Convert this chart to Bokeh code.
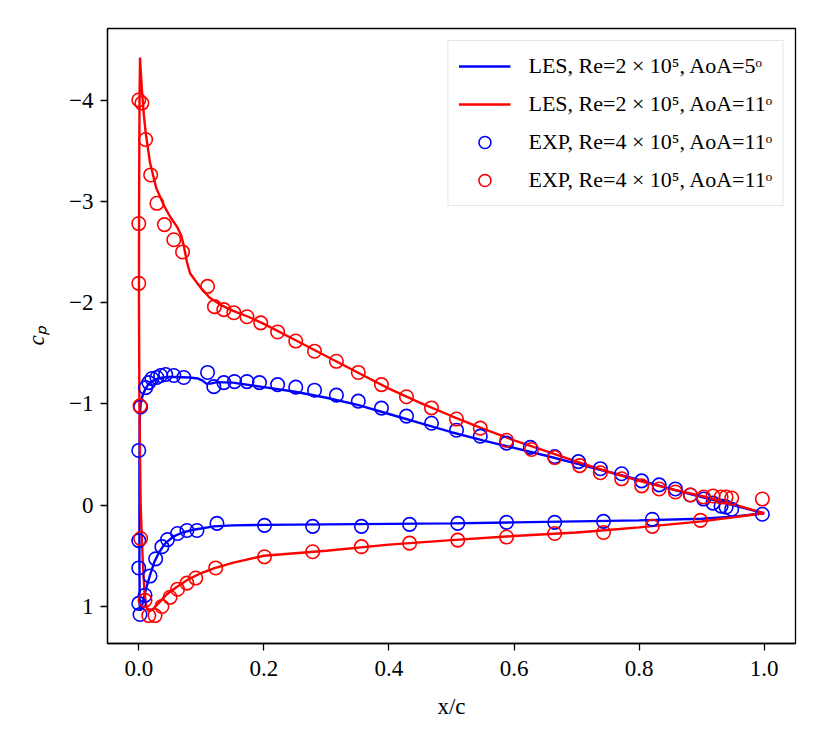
from bokeh.plotting import figure
from bokeh.models import Range1d, FixedTicker, Legend, LegendItem
from bokeh.embed import file_html
from bokeh.resources import INLINE

# ---------------- data ----------------
# LES, Re=2e5, AoA=5 (closed contour: lower TE -> LE -> upper TE)
les5_x = [1.0, 0.95, 0.9, 0.8, 0.7, 0.6, 0.5, 0.4, 0.3, 0.2, 0.15, 0.12, 0.09, 0.07,
          0.055, 0.042, 0.033, 0.025, 0.018, 0.012, 0.008, 0.005, 0.0025, 0.0015,
          0.001, 0.001, 0.0015, 0.003, 0.006, 0.01, 0.015, 0.02, 0.03, 0.045, 0.06,
          0.08, 0.095, 0.102, 0.108, 0.115, 0.125, 0.15, 0.2, 0.25, 0.3, 0.35, 0.4,
          0.45, 0.5, 0.55, 0.6, 0.65, 0.7, 0.75, 0.8, 0.85, 0.9, 0.95, 1.0]
les5_cp = [0.08, 0.115, 0.135, 0.15, 0.16, 0.17, 0.18, 0.185, 0.19, 0.195, 0.2, 0.21,
           0.24, 0.27, 0.31, 0.38, 0.46, 0.56, 0.69, 0.82, 0.92, 1.0, 1.04, 1.0,
           0.5, -0.4, -0.85, -1.0, -1.08, -1.14, -1.19, -1.22, -1.25, -1.265, -1.265,
           -1.26, -1.25, -1.23, -1.2, -1.2, -1.215, -1.21, -1.165, -1.12, -1.06, -0.99,
           -0.9, -0.81, -0.72, -0.64, -0.565, -0.49, -0.41, -0.33, -0.25, -0.16, -0.08,
           0.0, 0.08]

# LES, Re=2e5, AoA=11
les11_x = [1.0, 0.95, 0.9, 0.85, 0.8, 0.75, 0.7, 0.6, 0.5, 0.4, 0.3, 0.25, 0.2, 0.15,
           0.12, 0.1, 0.08, 0.06, 0.045, 0.03, 0.022, 0.016, 0.012, 0.009, 0.006,
           0.003, 0.001, 0.0003, 0.0005, 0.0012, 0.002, 0.003, 0.005, 0.008, 0.011,
           0.018, 0.028, 0.04, 0.05, 0.062, 0.068, 0.072, 0.077, 0.082, 0.09, 0.1,
           0.113, 0.13, 0.15, 0.175, 0.2, 0.25, 0.3, 0.35, 0.4, 0.45, 0.5, 0.55, 0.6,
           0.65, 0.7, 0.75, 0.8, 0.85, 0.9, 0.95, 1.0]
les11_cp = [0.08, 0.12, 0.16, 0.19, 0.22, 0.245, 0.27, 0.305, 0.345, 0.39, 0.45, 0.475,
            0.5, 0.57, 0.625, 0.67, 0.73, 0.81, 0.88, 0.98, 1.03, 1.05, 1.0, 0.85, 0.5,
            0.0, -1.0, -2.0, -3.0, -4.0, -4.42, -4.3, -4.1, -3.86, -3.68, -3.38, -3.13,
            -2.96, -2.85, -2.74, -2.66, -2.56, -2.4, -2.29, -2.22, -2.14, -2.05, -1.98,
            -1.92, -1.86, -1.79, -1.63, -1.47, -1.31, -1.15, -1.01, -0.88, -0.755,
            -0.64, -0.535, -0.43, -0.33, -0.24, -0.16, -0.09, -0.01, 0.08]

# EXP, blue (AoA=5 case)
exp5_x = [0.0, 0.003, 0.011, 0.016, 0.021, 0.029, 0.035, 0.043, 0.056, 0.072, 0.110,
          0.120, 0.136, 0.153, 0.173, 0.193, 0.222, 0.251, 0.281, 0.316, 0.351, 0.388,
          0.428, 0.468, 0.508, 0.546, 0.588, 0.626, 0.665, 0.703, 0.738, 0.772, 0.804,
          0.832, 0.858, 0.882, 0.903, 0.918, 0.931, 0.939, 0.948, 0.997,
          0.0, 0.0, 0.0, 0.002, 0.010, 0.018, 0.027, 0.037, 0.046, 0.062, 0.077, 0.093,
          0.125, 0.201, 0.278, 0.356, 0.433, 0.510, 0.588, 0.665, 0.743, 0.821]
exp5_cp = [-0.54, -0.97, -1.16, -1.21, -1.25, -1.26, -1.28, -1.29, -1.28, -1.26, -1.31,
           -1.17, -1.21, -1.22, -1.22, -1.21, -1.19, -1.165, -1.135, -1.086, -1.027,
           -0.958, -0.879, -0.809, -0.74, -0.681, -0.612, -0.57, -0.48, -0.43, -0.36,
           -0.31, -0.24, -0.20, -0.16, -0.10, -0.06, -0.02, 0.01, 0.02, 0.04, 0.09,
           0.35, 0.62, 0.97, 1.08, 0.89, 0.70, 0.53, 0.41, 0.34, 0.28, 0.25, 0.25,
           0.18, 0.20, 0.21, 0.21, 0.19, 0.18, 0.17, 0.17, 0.16, 0.14]

# EXP, red (AoA=11 case)
exp11_x = [0.0, 0.0, 0.0, 0.002, 0.005, 0.011, 0.019, 0.029, 0.041, 0.056, 0.070, 0.110,
           0.121, 0.136, 0.152, 0.173, 0.195, 0.222, 0.251, 0.281, 0.316, 0.351, 0.388,
           0.428, 0.468, 0.508, 0.546, 0.588, 0.628, 0.665, 0.705, 0.738, 0.772, 0.804,
           0.832, 0.858, 0.882, 0.903, 0.918, 0.931, 0.939, 0.948, 0.997,
           0.003, 0.010, 0.016, 0.026, 0.037, 0.050, 0.062, 0.077, 0.091, 0.123, 0.201,
           0.278, 0.356, 0.433, 0.510, 0.588, 0.665, 0.743, 0.821, 0.898]
exp11_cp = [-4.0, -2.78, -2.19, -0.98, -3.97, -3.61, -3.26, -2.98, -2.77, -2.62, -2.50,
            -2.16, -1.96, -1.93, -1.90, -1.86, -1.80, -1.71, -1.62, -1.52, -1.42, -1.31,
            -1.19, -1.07, -0.96, -0.85, -0.76, -0.64, -0.55, -0.47, -0.39, -0.32, -0.26,
            -0.19, -0.16, -0.13, -0.10, -0.08, -0.09, -0.08, -0.08, -0.07, -0.06,
            0.33, 0.94, 1.09, 1.09, 1.00, 0.91, 0.83, 0.77, 0.72, 0.62, 0.51, 0.46,
            0.41, 0.375, 0.345, 0.315, 0.28, 0.27, 0.21, 0.15]

labels = ["LES, Re=2 \u00d7 10\u2075, AoA=5\u1d52",
          "LES, Re=2 \u00d7 10\u2075, AoA=11\u1d52",
          "EXP, Re=4 \u00d7 10\u2075, AoA=11\u1d52",
          "EXP, Re=4 \u00d7 10\u2075, AoA=11\u1d52"]

x_ticks = [0.0, 0.2, 0.4, 0.6, 0.8, 1.0]
x_tick_labels = ["0.0", "0.2", "0.4", "0.6", "0.8", "1.0"]
y_ticks = [-4, -3, -2, -1, 0, 1]
y_tick_labels = ["\u22124", "\u22123", "\u22122", "\u22121", "0", "1"]

# ---------------- figure ----------------
FONT = "Liberation Serif"
p = figure(width=810, height=728, output_backend="svg", toolbar_location=None,
           x_range=Range1d(-0.05, 1.05), y_range=Range1d(1.366, -4.706),
           frame_width=688, frame_height=615,
           min_border_left=107, min_border_top=28, min_border_right=15,
           min_border_bottom=85)
p.grid.visible = False
p.outline_line_color = "black"
p.outline_line_width = 1.3
p.background_fill_color = "white"
p.border_fill_color = "white"

for ax in (p.xaxis[0], p.yaxis[0]):
    ax.major_tick_out = 7
    ax.major_tick_in = 0
    ax.minor_tick_line_color = None
    ax.axis_line_color = "black"
    ax.axis_line_width = 1.3
    ax.major_tick_line_color = "black"
    ax.major_tick_line_width = 1.3
    ax.major_label_text_font = FONT
    ax.major_label_text_font_size = "23px"
    ax.major_label_text_color = "black"
    ax.axis_label_text_font = FONT
    ax.axis_label_text_font_size = "23px"
    ax.axis_label_text_color = "black"

p.xaxis.ticker = FixedTicker(ticks=x_ticks)
p.xaxis.major_label_overrides = {t: l for t, l in zip(x_ticks, x_tick_labels)}
p.yaxis.ticker = FixedTicker(ticks=y_ticks)
p.yaxis.major_label_overrides = {t: l for t, l in zip(y_ticks, y_tick_labels)}
p.xaxis.major_label_standoff = 10
p.yaxis.major_label_standoff = 7
p.xaxis.axis_label = "x/c"
p.xaxis.axis_label_text_font_style = "normal"
p.xaxis.axis_label_standoff = 15
p.yaxis.axis_label = "c\u209a"
p.yaxis.axis_label_text_font_style = "italic"
p.yaxis.axis_label_standoff = 17

r1 = p.line(les5_x, les5_cp, line_color="#0000ff", line_width=2.4)
r2 = p.line(les11_x, les11_cp, line_color="#ff0000", line_width=2.4)
r3 = p.scatter(exp5_x, exp5_cp, marker="circle", size=13.5, fill_color=None,
               line_color="#0000ff", line_width=1.6)
r4 = p.scatter(exp11_x, exp11_cp, marker="circle", size=13.5, fill_color=None,
               line_color="#ff0000", line_width=1.6)

legend = Legend(items=[LegendItem(label=labels[0], renderers=[r1]),
                       LegendItem(label=labels[1], renderers=[r2]),
                       LegendItem(label=labels[2], renderers=[r3]),
                       LegendItem(label=labels[3], renderers=[r4])],
                location="top_right", margin=12, padding=10, spacing=8,
                label_height=30, glyph_height=30, glyph_width=52, label_standoff=18,
                label_text_font=FONT, label_text_font_size="22px",
                label_text_color="black",
                border_line_color="#cccccc", border_line_width=1.3,
                background_fill_color="white", background_fill_alpha=0.8)
p.add_layout(legend)

open("out.html", "w").write(file_html(p, INLINE))
